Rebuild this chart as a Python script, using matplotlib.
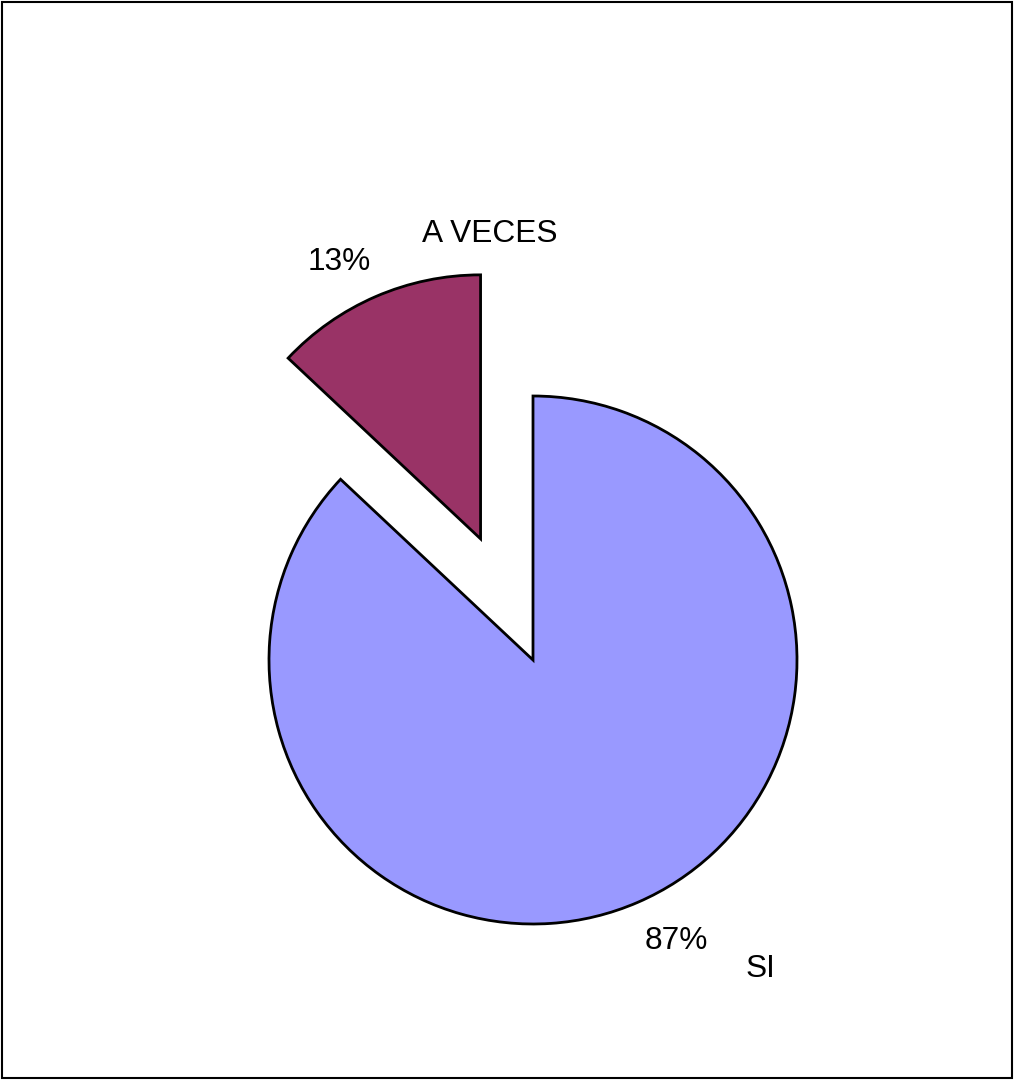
import matplotlib
matplotlib.use("Agg")
import matplotlib.pyplot as plt
from matplotlib.patches import Rectangle

plt.rcParams['font.family'] = ['Liberation Sans', 'DejaVu Sans']

# Survey answers
categories = ["SI", "A VECES"]
values = [87, 13]
percent_labels = ["87%", "13%"]
colors = ["#9999FF", "#993366"]
explode = [0.0, 0.5]

fig = plt.figure(figsize=(10.14, 10.8), dpi=100)
ax = fig.add_axes([0, 0, 1, 1])

wedges, _ = ax.pie(values, colors=colors, explode=explode, startangle=90,
                   counterclock=False, radius=1.0,
                   wedgeprops=dict(edgecolor="black", linewidth=2.0))

# Label positions in pie units (radius = 1)
name_pos = [(0.862, -1.170), (-0.165, 1.614)]
pct_pos = [(0.544, -1.064), (-0.733, 1.508)]
for name, pct, (nx, ny), (px, py) in zip(categories, percent_labels, name_pos, pct_pos):
    ax.text(nx, ny, name, ha="center", va="center", fontsize=22.8, color="black")
    ax.text(px, py, pct, ha="center", va="center", fontsize=22.8, color="black")

ax.set_xlim(-533 / 264, (1014 - 533) / 264)
ax.set_ylim(-(1080 - 660) / 264, 660 / 264)
ax.set_aspect("auto")
ax.axis("off")

# Outer frame
fig.patches.append(Rectangle((0.0015, 0.0015), 0.997, 0.997, transform=fig.transFigure,
                             fill=False, edgecolor="black", linewidth=1.5))

fig.savefig("out.png", dpi=100, facecolor="white")
